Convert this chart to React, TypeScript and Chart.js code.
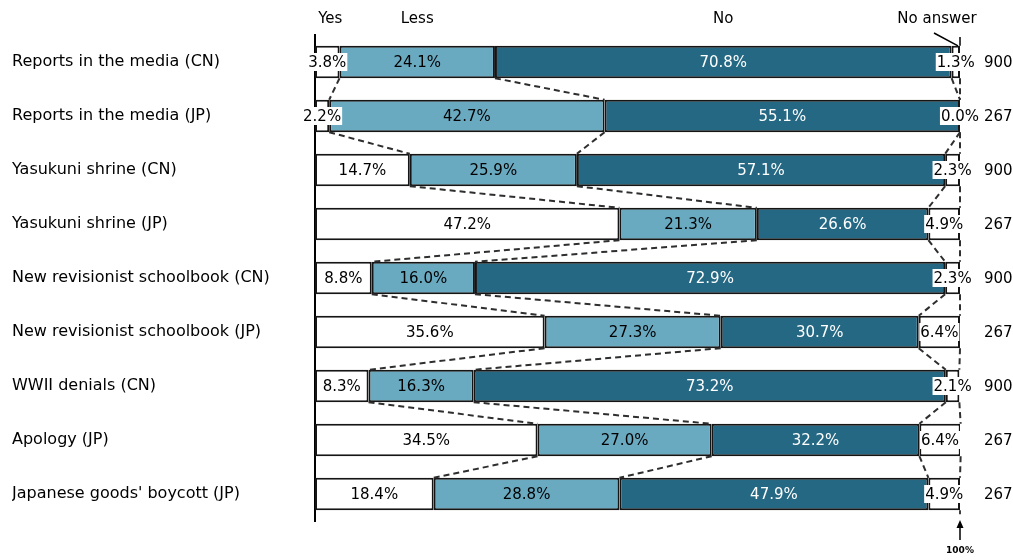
import React, { useEffect, useRef } from "react";
import { Chart, registerables } from "chart.js";

Chart.register(...registerables);

const categories = [
  "Reports in the media (CN)",
  "Reports in the media (JP)",
  "Yasukuni shrine (CN)",
  "Yasukuni shrine (JP)",
  "New revisionist schoolbook (CN)",
  "New revisionist schoolbook (JP)",
  "WWII denials (CN)",
  "Apology (JP)",
  "Japanese goods' boycott (JP)",
];
const seriesNames = ["Yes", "Less", "No", "No answer"];
const yesValues = [3.8, 2.2, 14.7, 47.2, 8.8, 35.6, 8.3, 34.5, 18.4];
const lessValues = [24.1, 42.7, 25.9, 21.3, 16.0, 27.3, 16.3, 27.0, 28.8];
const noValues = [70.8, 55.1, 57.1, 26.6, 72.9, 30.7, 73.2, 32.2, 47.9];
const noAnswerValues = [1.3, 0.0, 2.3, 4.9, 2.3, 6.4, 2.1, 6.4, 4.9];
const sampleSizes = [900, 267, 900, 267, 900, 267, 900, 267, 267];
const endLabel = "100%";

const seriesColors = ["#ffffff", "#6aaac1", "#246884", "#ffffff"];
const labelColors = ["#000000", "#000000", "#ffffff", "#000000"];
const FONT = "'DejaVu Sans', sans-serif";

const overlayPlugin = {
  id: "overlay",
  afterDatasetsDraw(chart: any) {
    const ctx = chart.ctx as CanvasRenderingContext2D;
    const area = chart.chartArea;
    const metas = [0, 1, 2, 3].map((i) => chart.getDatasetMeta(i));
    const values = [yesValues, lessValues, noValues, noAnswerValues];
    const n = categories.length;
    const props = (d: number, r: number) =>
      metas[d].data[r].getProps(["x", "y", "base", "height"], true);

    // dashed connectors
    ctx.save();
    ctx.setLineDash([6, 4]);
    ctx.strokeStyle = "#2e2e2e";
    ctx.lineWidth = 2;
    for (let r = 0; r < n - 1; r++) {
      for (let d = 0; d < 4; d++) {
        const a = props(d, r);
        const b = props(d, r + 1);
        ctx.beginPath();
        ctx.moveTo(a.x, a.y + a.height / 2);
        ctx.lineTo(b.x, b.y - b.height / 2);
        ctx.stroke();
      }
    }
    ctx.restore();

    // value labels
    ctx.save();
    ctx.font = `15px ${FONT}`;
    ctx.textAlign = "center";
    ctx.textBaseline = "middle";
    for (let r = 0; r < n; r++) {
      for (let d = 0; d < 4; d++) {
        const p = props(d, r);
        const cx = (p.x + p.base) / 2;
        const txt = values[d][r].toFixed(1) + "%";
        const w = ctx.measureText(txt).width;
        if (w + 4 > Math.abs(p.x - p.base)) {
          ctx.fillStyle = "#ffffff";
          ctx.fillRect(cx - w / 2 - 1, p.y - 9, w + 2, 18);
          ctx.fillStyle = "#000000";
        } else {
          ctx.fillStyle = labelColors[d];
        }
        ctx.fillText(txt, cx, p.y + 1);
      }
      // sample sizes
      const p0 = props(3, r);
      ctx.textAlign = "left";
      ctx.fillStyle = "#000000";
      ctx.fillText(String(sampleSizes[r]), area.right + 24, p0.y + 1);
      ctx.textAlign = "center";
    }

    // header labels
    const top0 = props(0, 0);
    for (let d = 0; d < 3; d++) {
      const p = props(d, 0);
      ctx.fillText(seriesNames[d], (p.x + p.base) / 2 + (d === 0 ? 3 : 0), 19);
    }
    ctx.fillText(seriesNames[3], area.right - 23, 19);
    ctx.restore();

    // pointer & right ticks
    ctx.save();
    ctx.strokeStyle = "#000000";
    ctx.lineWidth = 1.5;
    const barTop = top0.y - top0.height / 2;
    ctx.beginPath();
    ctx.moveTo(area.right - 26, area.top - 2);
    ctx.lineTo(area.right - 2, barTop);
    ctx.moveTo(area.right, area.top + 2);
    ctx.lineTo(area.right, barTop);
    const last = props(3, n - 1);
    const barBottom = last.y + last.height / 2;
    ctx.moveTo(area.right, barBottom);
    ctx.lineTo(area.right, barBottom + 4);
    // arrow
    ctx.moveTo(area.right, 540);
    ctx.lineTo(area.right, 526);
    ctx.stroke();
    ctx.fillStyle = "#000000";
    ctx.beginPath();
    ctx.moveTo(area.right, 520);
    ctx.lineTo(area.right - 3.5, 528);
    ctx.lineTo(area.right + 3.5, 528);
    ctx.closePath();
    ctx.fill();
    ctx.font = `bold 9px ${FONT}`;
    ctx.textAlign = "center";
    ctx.textBaseline = "middle";
    ctx.fillText(endLabel, area.right, 551);
    ctx.restore();
  },
};

export default function App() {
  const ref = useRef<HTMLCanvasElement | null>(null);
  useEffect(() => {
    if (!ref.current) return;
    const allValues = [yesValues, lessValues, noValues, noAnswerValues];
    const chart = new Chart(ref.current, {
      type: "bar",
      data: {
        labels: categories,
        datasets: allValues.map((vals, i) => ({
          label: seriesNames[i],
          data: vals,
          backgroundColor: seriesColors[i],
          borderColor: "#151515",
          borderWidth: 2,
          borderSkipped: false,
          barPercentage: 0.6,
          categoryPercentage: 1,
        })),
      },
      options: {
        indexAxis: "y",
        animation: false,
        responsive: true,
        maintainAspectRatio: false,
        layout: { padding: { left: 12, right: 53, top: 35, bottom: 39 } },
        plugins: {
          legend: { display: false },
          tooltip: { enabled: false },
        },
        scales: {
          x: {
            stacked: true,
            min: 0,
            max: 100,
            display: false,
          },
          y: {
            stacked: true,
            grid: { display: false },
            border: { display: true, color: "#000000", width: 2 },
            ticks: {
              crossAlign: "far",
              padding: 0,
              color: "#000000",
              font: { family: FONT, size: 16 },
            },
            afterFit: (scale: any) => {
              scale.width = 303;
            },
          },
        },
      },
      plugins: [overlayPlugin],
    } as any);
    return () => chart.destroy();
  }, []);
  return (
    <div style={{ position: "fixed", left: 0, top: 0, width: 1013, height: 560, background: "#ffffff" }}>
      <canvas ref={ref} />
    </div>
  );
}
